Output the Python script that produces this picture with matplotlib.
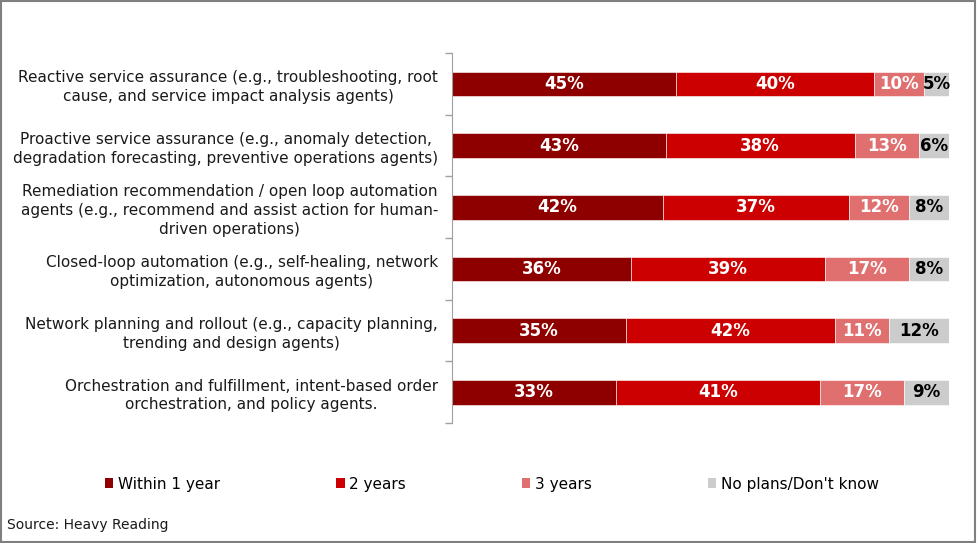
import matplotlib
matplotlib.use("Agg")
import matplotlib.pyplot as plt
from matplotlib.patches import Rectangle, Patch
import numpy as np

categories = [
    "Reactive service assurance (e.g., troubleshooting, root\ncause, and service impact analysis agents)",
    "Proactive service assurance (e.g., anomaly detection,\ndegradation forecasting, preventive operations agents)",
    "Remediation recommendation / open loop automation\nagents (e.g., recommend and assist action for human-\ndriven operations)",
    "Closed-loop automation (e.g., self-healing, network\noptimization, autonomous agents)",
    "Network planning and rollout (e.g., capacity planning,\ntrending and design agents)",
    "Orchestration and fulfillment, intent-based order\norchestration, and policy agents.",
]
series_names = ["Within 1 year", "2 years", "3 years", "No plans/Don't know"]
within_1_year = [45, 43, 42, 36, 35, 33]
two_years = [40, 38, 37, 39, 42, 41]
three_years = [10, 13, 12, 17, 11, 17]
no_plans = [5, 6, 8, 8, 12, 9]
source_text = "Source: Heavy Reading"

colors = ["#8E0000", "#CC0000", "#E07070", "#CCCCCC"]
label_colors = ["white", "white", "white", "black"]

plt.rcParams['font.family'] = ['DejaVu Sans']

fig = plt.figure(figsize=(9.77, 5.43), dpi=100)
ax = fig.add_axes([452/977, 1-423/543, (949-452)/977, (423-53)/543])

data = np.array([within_1_year, two_years, three_years, no_plans], dtype=float)
totals = data.sum(axis=0)
pct = data / totals * 100
y = np.arange(len(categories))
left = np.zeros(len(categories))
for i in range(4):
    bars = ax.barh(y, pct[i], left=left, height=0.4, color=colors[i],
                   edgecolor="white", linewidth=0.4)
    for j, b in enumerate(bars):
        ax.text(b.get_x() + b.get_width()/2, y[j], f"{int(data[i, j])}%",
                ha="center", va="center", color=label_colors[i],
                fontsize=12, fontweight="bold")
    left += pct[i]

ax.set_xlim(0, 100)
ax.set_ylim(len(categories) - 0.5, -0.5)
ax.set_yticks(y)
ax.set_yticklabels(categories, fontsize=11, ha="right", color="#1a1a1a",
                   multialignment="center", linespacing=1.3)
ax.tick_params(axis="y", which="major", length=0, pad=10)
ax.set_yticks(np.arange(-0.5, len(categories)), minor=True)
ax.tick_params(axis="y", which="minor", length=5, color="#A0A0A0", width=1)
ax.set_xticks([])
for s in ["top", "right", "bottom"]:
    ax.spines[s].set_visible(False)
ax.spines["left"].set_color("#A0A0A0")

handles = [Patch(facecolor=c, edgecolor="none") for c in colors]
fig.legend(handles, series_names, loc="center", ncol=4,
           bbox_to_anchor=(492/977, 1-484/543), frameon=False,
           fontsize=11, handlelength=0.55, handleheight=0.55,
           handletextpad=0.3, columnspacing=7.6)

fig.text(7/977, 1-525/543, source_text, fontsize=10, va="center",
         ha="left", color="#1a1a1a")

fig.patches.append(Rectangle((0.001, 0.002), 0.997, 0.996,
                             transform=fig.transFigure, fill=False,
                             edgecolor="#7F7F7F", linewidth=1.5))

fig.savefig("out.png", dpi=100)
